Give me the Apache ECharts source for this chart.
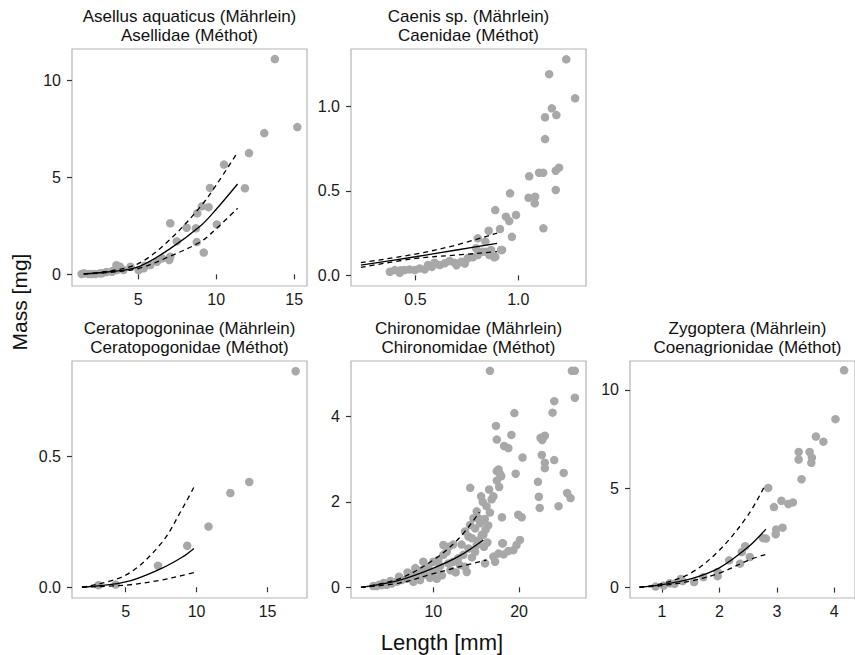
<!DOCTYPE html>
<html><head><meta charset="utf-8">
<script src="https://cdn.jsdelivr.net/npm/echarts@6/dist/echarts.min.js"></script>
<style>html,body{margin:0;padding:0;background:#fff;overflow:hidden}#c{width:855px;height:655px}</style>
</head><body><div id="c"></div>
<script>
// ---------- DATA ----------
const panelTitles = [
  'Asellus aquaticus (Mährlein)\nAsellidae (Méthot)',
  'Caenis sp. (Mährlein)\nCaenidae (Méthot)',
  'Ceratopogoninae (Mährlein)\nCeratopogonidae (Méthot)',
  'Chironomidae (Mährlein)\nChironomidae (Méthot)',
  'Zygoptera (Mährlein)\nCoenagrionidae (Méthot)'
];
const xAxisTitle = 'Length [mm]';
const yAxisTitle = 'Mass [mg]';

// tick values per panel
const asellusXTicks = [5, 10, 15];
const asellusYTicks = [0, 5, 10];
const caenisXTicks = [0.5, 1.0];
const caenisYTicks = [0.0, 0.5, 1.0];
const ceratoXTicks = [5, 10, 15];
const ceratoYTicks = [0.0, 0.5];
const chiroXTicks = [10, 20];
const chiroYTicks = [0, 2, 4];
const zygoXTicks = [1, 2, 3, 4];
const zygoYTicks = [0, 5, 10];

// observed points [length, mass]
const asellusPts = [[1.37,0.02],[1.52,0.05],[1.82,0.02],[2.0,0.02],[2.24,0.02],[2.54,0.05],[2.67,0.05],[2.97,0.12],[3.31,0.13],[3.35,0.17],[3.6,0.47],[3.63,0.22],[3.83,0.39],[4.05,0.22],[4.5,0.39],[5.02,0.22],[5.35,0.31],[5.43,0.44],[5.77,0.48],[6.2,0.65],[6.52,0.82],[6.99,0.74],[7.05,0.91],[7.05,2.63],[7.47,1.70],[8.1,2.40],[8.75,1.66],[8.7,2.37],[8.78,3.14],[9.08,3.50],[9.2,1.12],[9.51,3.46],[9.6,4.45],[10.04,2.57],[10.5,5.65],[11.84,4.43],[12.1,6.24],[13.08,7.27],[13.76,11.08],[15.2,7.58]];
const asellusFit   = [[1.5,0.02],[3,0.12],[5,0.39],[7,1.3],[9,2.5],[10,3.35],[11.37,4.65]];
const asellusUpper = [[1.5,0.03],[3,0.15],[5,0.55],[7,1.77],[9,3.5],[10,4.6],[11.3,6.2]];
const asellusLower = [[1.5,0.01],[3,0.09],[5,0.3],[7,0.92],[9,1.68],[10,2.35],[11.37,3.4]];

const caenisPts = [[1.233,1.278],[1.15,1.19],[1.276,1.047],[1.163,0.988],[1.185,0.948],[1.13,0.935],[1.13,0.806],[1.198,0.637],[1.182,0.619],[1.101,0.607],[1.121,0.607],[1.053,0.586],[1.182,0.505],[1.082,0.465],[1.05,0.459],[1.08,0.426],[1.122,0.278],[0.96,0.485],[0.989,0.357],[0.94,0.347],[0.888,0.386],[0.956,0.321],[0.911,0.274],[0.969,0.228],[0.856,0.264],[0.803,0.219],[0.84,0.199],[0.921,0.15],[0.888,0.11],[0.843,0.14],[0.376,0.021],[0.4,0.031],[0.424,0.015],[0.448,0.031],[0.472,0.035],[0.497,0.031],[0.521,0.041],[0.545,0.035],[0.561,0.061],[0.593,0.075],[0.618,0.061],[0.642,0.071],[0.666,0.085],[0.69,0.075],[0.723,0.081],[0.754,0.101],[0.779,0.107],[0.803,0.12],[0.827,0.14],[0.86,0.12],[0.884,0.107],[0.868,0.15],[0.795,0.16],[0.916,0.15],[0.43,0.03],[0.58,0.05],[0.70,0.06],[0.74,0.07]];
const caenisFit   = [[0.235,0.061],[0.5,0.11],[0.7,0.15],[0.897,0.189]];
const caenisUpper = [[0.235,0.075],[0.5,0.126],[0.7,0.18],[0.897,0.25]];
const caenisLower = [[0.235,0.047],[0.5,0.1],[0.7,0.12],[0.897,0.14]];

const ceratoPts = [[3.08,0.008],[4.3,0.01],[7.28,0.082],[9.34,0.158],[10.84,0.231],[12.38,0.359],[13.71,0.401],[16.98,0.823]];
const ceratoFit   = [[1.92,0.0],[5,0.02],[7.5,0.071],[9,0.115],[9.81,0.148]];
const ceratoUpper = [[1.92,0.0],[5,0.046],[7.5,0.167],[9,0.3],[9.81,0.381]];
const ceratoLower = [[1.92,0.0],[5,0.008],[7.5,0.027],[9,0.045],[9.81,0.056]];

const chiroPts = [[16.6,5.07],[26.15,5.07],[26.5,5.07],[26.5,4.44],[24.1,4.36],[23.9,4.09],[19.45,4.08],[17.3,3.78],[17.4,3.46],[19.1,3.57],[18.25,3.31],[18.75,3.26],[22.5,3.5],[23.0,3.55],[22.7,3.45],[20.4,3.04],[22.65,3.1],[23.0,2.92],[23.0,2.79],[24.1,2.98],[17.6,2.76],[17.9,2.6],[19.6,2.66],[25.2,2.68],[22.2,2.47],[14.3,2.33],[22.3,2.12],[24.6,1.9],[22.4,1.86],[25.6,2.21],[26.0,2.09],[18.0,1.64],[19.9,1.7],[20.3,1.64],[20.1,1.11],[19.7,0.99],[18.05,1.03],[15.57,2.13],[15.76,2.0],[16.2,1.9],[16.8,2.06],[17.0,2.13],[16.5,2.29],[17.4,2.5],[17.67,2.35],[17.4,2.72],[17.8,2.65],[15.06,1.78],[14.67,1.62],[15.25,1.62],[14.28,1.46],[14.87,1.38],[15.45,1.5],[15.83,1.23],[13.7,1.31],[14.1,1.19],[14.5,1.15],[15.06,0.99],[14.87,0.83],[14.1,0.91],[13.5,0.76],[12.9,0.68],[12.33,0.6],[11.75,0.56],[13.1,0.52],[13.9,0.36],[13.7,0.48],[11.17,0.76],[10.58,0.64],[10.0,0.6],[11.17,0.99],[11.56,0.83],[9.42,0.48],[8.83,0.6],[8.65,0.4],[8.06,0.32],[7.48,0.28],[6.9,0.2],[6.3,0.17],[5.73,0.13],[5.15,0.09],[4.56,0.06],[3.98,0.05],[3.4,0.03],[3.0,0.03],[9.6,0.22],[10.4,0.2],[11.0,0.28],[7.67,0.13],[8.45,0.17],[17.0,0.72],[17.6,0.79],[18.2,0.77],[18.75,0.85],[19.33,0.87],[18.1,1.03],[17.2,0.6],[16.03,0.56],[15.65,1.23],[16.0,1.6],[16.4,1.45],[15.3,1.1],[16.6,1.75],[16.1,1.35],[15.9,0.95],[16.3,1.05],[14.5,0.7],[12.0,0.4],[12.6,0.35],[9.0,0.3],[10.5,0.4],[7.0,0.35],[7.9,0.45],[6.0,0.25],[5.0,0.15],[4.2,0.1],[3.7,0.06],[11.8,0.95],[12.3,1.0],[13.3,1.0],[10.8,0.5],[9.9,0.35]];
const chiroFit   = [[1.56,0.0],[6,0.165],[10,0.45],[13,0.73],[15.83,1.11]];
const chiroUpper = [[1.56,0.0],[6,0.2],[10,0.64],[13,1.15],[15.37,1.76]];
const chiroLower = [[1.56,0.0],[6,0.1],[10,0.32],[13,0.48],[16.2,0.64]];

const zygoPts = [[4.17,10.99],[4.02,8.52],[3.68,7.64],[3.81,7.38],[3.38,6.86],[3.38,6.48],[3.57,6.86],[3.61,6.57],[3.6,6.31],[3.43,5.48],[2.85,5.04],[2.95,4.07],[3.08,4.39],[3.2,4.23],[3.28,4.31],[3.1,3.03],[2.99,2.94],[2.98,2.7],[2.81,2.48],[2.76,2.5],[2.45,2.09],[2.39,1.8],[2.53,1.55],[2.36,1.21],[2.17,1.38],[1.97,0.79],[1.97,0.58],[1.72,0.53],[1.56,0.28],[1.36,0.33],[1.33,0.44],[1.22,0.19],[1.14,0.22],[1.03,0.1],[0.89,0.05]];
const zygoFit   = [[0.61,0.02],[1.0,0.15],[1.5,0.44],[2.0,1.0],[2.5,2.05],[2.81,2.96]];
const zygoUpper = [[0.61,0.03],[1.0,0.2],[1.5,0.73],[2.0,1.89],[2.5,3.67],[2.78,5.09]];
const zygoLower = [[0.61,0.01],[1.0,0.1],[1.5,0.33],[2.0,0.73],[2.5,1.38],[2.81,1.68]];

// ---------- LAYOUT ----------
const FONT = '"Liberation Sans", Arial, sans-serif';
const panels = [
  {pts: asellusPts, fit: asellusFit, up: asellusUpper, lo: asellusLower, xt: asellusXTicks, yt: asellusYTicks,
   left: 72, top: 49, xmin: 0.75, xmax: 15.82, ymin: -0.6, ymax: 11.6, xd: 0, yd: 0},
  {pts: caenisPts, fit: caenisFit, up: caenisUpper, lo: caenisLower, xt: caenisXTicks, yt: caenisYTicks,
   left: 351, top: 49, xmin: 0.187, xmax: 1.329, ymin: -0.063, ymax: 1.339, xd: 1, yd: 1},
  {pts: ceratoPts, fit: ceratoFit, up: ceratoUpper, lo: ceratoLower, xt: ceratoXTicks, yt: ceratoYTicks,
   left: 72, top: 361, xmin: 1.22, xmax: 17.78, ymin: -0.041, ymax: 0.862, xd: 0, yd: 1},
  {pts: chiroPts, fit: chiroFit, up: chiroUpper, lo: chiroLower, xt: chiroXTicks, yt: chiroYTicks,
   left: 351, top: 361, xmin: 0.4, xmax: 27.8, ymin: -0.25, ymax: 5.3, xd: 0, yd: 0},
  {pts: zygoPts, fit: zygoFit, up: zygoUpper, lo: zygoLower, xt: zygoXTicks, yt: zygoYTicks,
   left: 630, top: 361, xmin: 0.445, xmax: 4.36, ymin: -0.526, ymax: 11.46, xd: 0, yd: 0}
];
const PW = 235, PH = 237;

const grid = [], xAxis = [], yAxis = [], series = [], graphic = [];
const labelStyle = {color: '#1a1a1a', fontSize: 16, fontFamily: FONT};
panels.forEach((p, i) => {
  grid.push({left: p.left, top: p.top, width: PW, height: PH, show: true,
    borderColor: '#b5b5b5', borderWidth: 1.2, backgroundColor: '#fff', containLabel: false});
  xAxis.push({type: 'value', gridIndex: i, min: p.xmin, max: p.xmax,
    axisLine: {show: false}, splitLine: {show: false},
    axisTick: {show: true, length: 5, inside: false, customValues: p.xt, lineStyle: {color: '#333', width: 1.2}},
    axisLabel: {show: true, margin: 5, customValues: p.xt, ...labelStyle,
      formatter: v => Number(v).toFixed(p.xd)}});
  yAxis.push({type: 'value', gridIndex: i, min: p.ymin, max: p.ymax,
    axisLine: {show: false}, splitLine: {show: false},
    axisTick: {show: true, length: 5, inside: false, customValues: p.yt, lineStyle: {color: '#333', width: 1.2}},
    axisLabel: {show: true, margin: 11, customValues: p.yt, ...labelStyle,
      formatter: v => Number(v).toFixed(p.yd)}});
  series.push({type: 'scatter', xAxisIndex: i, yAxisIndex: i, data: p.pts, symbolSize: 8.5,
    itemStyle: {color: '#a8a8a8', opacity: 1}, z: 2, silent: true, clip: true});
  const lineBase = {type: 'line', xAxisIndex: i, yAxisIndex: i, showSymbol: false, smooth: 0.35,
    silent: true, z: 3, clip: true};
  series.push({...lineBase, data: p.fit, lineStyle: {color: '#000', width: 1.3, type: 'solid'}});
  series.push({...lineBase, data: p.up, lineStyle: {color: '#000', width: 1.3, type: [5, 4]}});
  series.push({...lineBase, data: p.lo, lineStyle: {color: '#000', width: 1.3, type: [5, 4]}});
  graphic.push({type: 'text', x: p.left + PW / 2, y: p.top - 42,
    style: {text: panelTitles[i], fill: '#111', font: '17px ' + FONT, align: 'center',
      verticalAlign: 'top', lineHeight: 19}});
});
graphic.push({type: 'text', x: 442, y: 631,
  style: {text: xAxisTitle, fill: '#111', font: '22px ' + FONT, align: 'center', verticalAlign: 'top'}});
graphic.push({type: 'text', x: 19, y: 302, rotation: Math.PI / 2,
  style: {text: yAxisTitle, fill: '#111', font: '21px ' + FONT, align: 'center', verticalAlign: 'middle'}});

const chart = echarts.init(document.getElementById('c'), null, {renderer: 'svg', width: 855, height: 655});
chart.setOption({backgroundColor: '#fff', animation: false, grid, xAxis, yAxis, series, graphic});
</script></body></html>
